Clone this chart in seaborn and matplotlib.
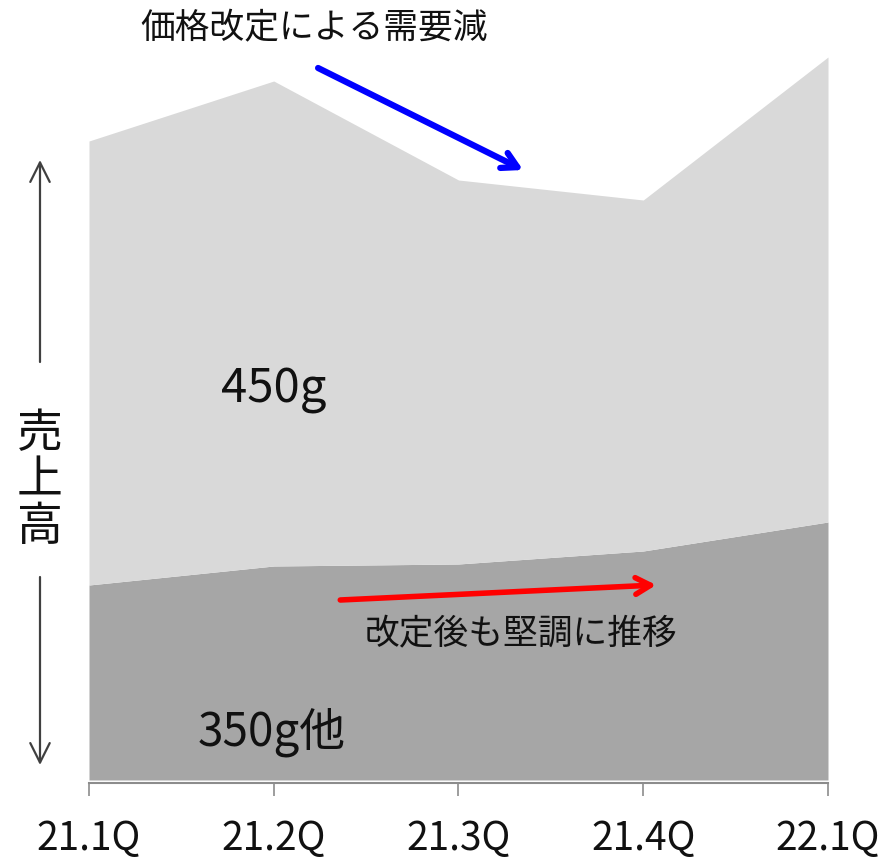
import matplotlib
matplotlib.use("Agg")
import matplotlib.pyplot as plt
from matplotlib.patches import FancyArrowPatch
import seaborn as sns
import numpy as np

# Quarterly sales by product (arbitrary units)
quarters = ["21.1Q", "21.2Q", "21.3Q", "21.4Q", "22.1Q"]
sales_350g_other = [195, 214, 216, 229, 258]
sales_450g = [444, 485, 384, 351, 465]

sns.set_theme(style="white")
plt.rcParams["font.family"] = ["Noto Sans CJK JP", "DejaVu Sans"]

fig = plt.figure(figsize=(8.95, 8.64), dpi=100)
ax = fig.add_axes([89 / 895, 81 / 864, (828 - 89) / 895, (783 - 40) / 864])

x = np.arange(len(quarters))
ax.stackplot(x, sales_350g_other, sales_450g,
             colors=["#a6a6a6", "#d9d9d9"], linewidth=0)

ax.set_xlim(0, len(quarters) - 1)
ax.set_ylim(-3, 740)
ax.set_xticks(x)
ax.set_xticklabels(quarters, fontsize=28, color="#111111")
ax.set_yticks([])
sns.despine(ax=ax, left=True, top=True, right=True)
ax.spines["bottom"].set_color("#8c8c8c")
ax.spines["bottom"].set_linewidth(1.5)
ax.tick_params(axis="x", direction="out", length=9, width=1.2,
               color="#8c8c8c", pad=17, bottom=True)

# Series labels
ax.text(1.0, 390, "450g", fontsize=34, ha="center", va="center", color="#111111")
ax.text(0.99, 48, "350g他", fontsize=33, ha="center", va="center", color="#111111")

# Callouts
ax.text(1.22, 751, "価格改定による需要減", fontsize=25, ha="center", va="center",
        color="#111111", clip_on=False)
ax.annotate("", xy=(2.35, 610), xytext=(1.24, 712),
            arrowprops=dict(arrowstyle="->,head_length=0.9,head_width=0.5",
                            color="#0000ff", lw=4.5, shrinkA=0, shrinkB=0),
            annotation_clip=False)

ax.text(2.34, 145, "改定後も堅調に推移", fontsize=25, ha="center", va="center",
        color="#111111")
ax.annotate("", xy=(3.07, 195), xytext=(1.36, 180),
            arrowprops=dict(arrowstyle="->,head_length=0.9,head_width=0.5",
                            color="#ff0000", lw=4, shrinkA=0, shrinkB=0))

# Vertical "sales" axis indicator on the left
arrow_kw = dict(arrowstyle="->,head_length=0.7,head_width=0.35",
                color="#404040", lw=1.6, shrinkA=0, shrinkB=0,
                mutation_scale=20)
fig.add_artist(FancyArrowPatch((40, 864 - 362), (40, 864 - 160),
                               transform=None, **arrow_kw))
fig.add_artist(FancyArrowPatch((40, 864 - 577), (40, 864 - 765),
                               transform=None, **arrow_kw))
fig.text(40 / 895, 1 - 480 / 864, "売\n上\n高", fontsize=33, ha="center",
         va="center", linespacing=0.95, color="#111111")

fig.savefig("out.png", dpi=100)
